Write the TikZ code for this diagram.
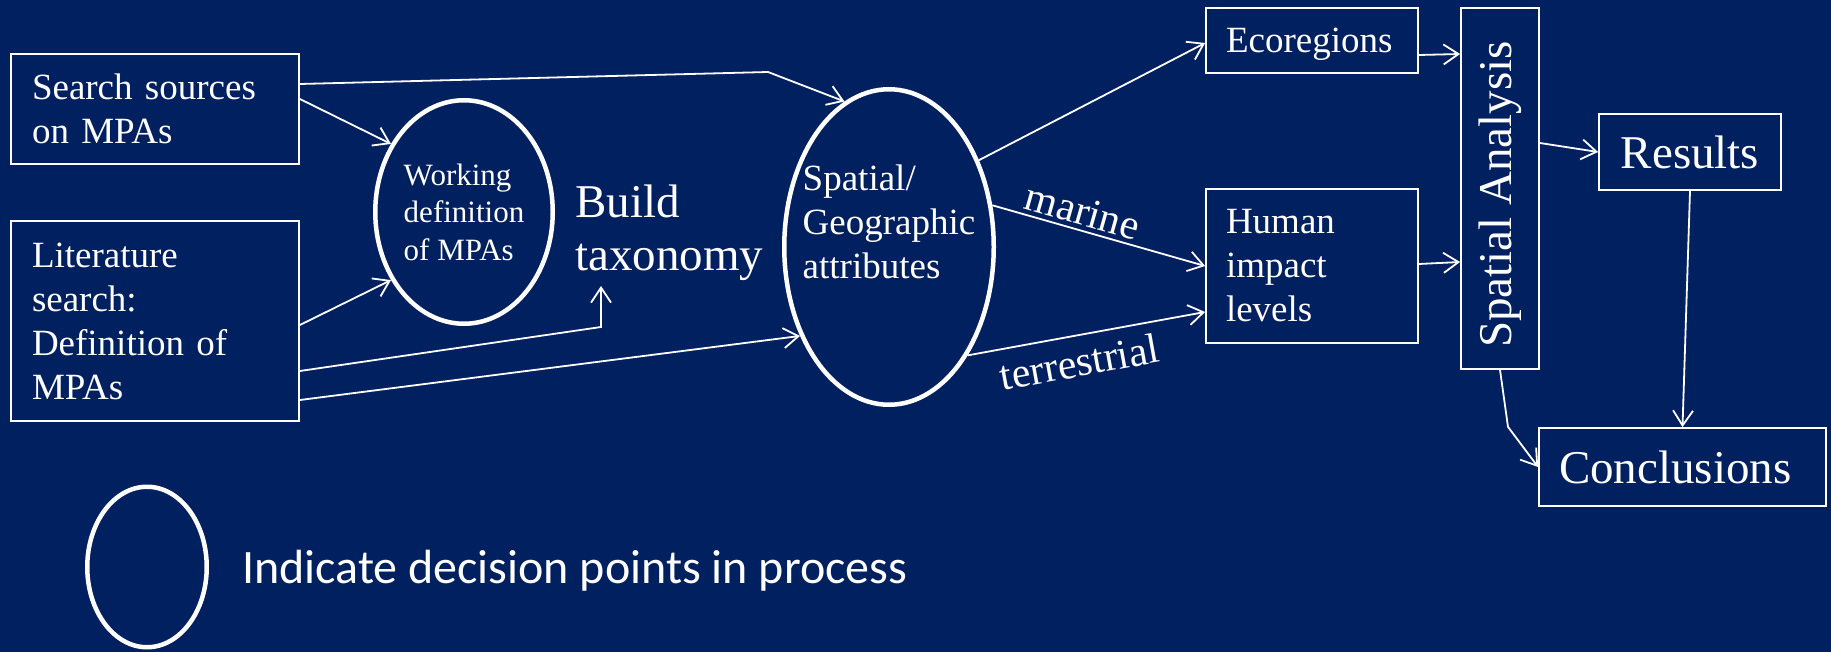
\documentclass[tikz,border=0pt]{standalone}
\usepackage{fontspec}
\setmainfont{Liberation Serif}
\newfontfamily\calibrifont{Carlito}
\usetikzlibrary{shapes.geometric,arrows.meta}
\definecolor{navy}{RGB}{0,32,96}
\begin{document}
\begin{tikzpicture}[x=1pt,y=-1pt,white,
  box/.style={draw=white, line width=1.8pt, text=white, inner ysep=0pt, align=left},
  oval/.style={ellipse, draw=white, line width=4.5pt, text=white, inner sep=0pt, align=left},
  arr/.style={draw=white, line width=1.8pt, -{Straight Barb[length=15pt,width=20pt]}, line join=miter},
  bodytext/.style={font=\fontsize{37}{44}\selectfont},
  bigtext/.style={font=\fontsize{47}{56}\selectfont},
  lbl/.style={text=white, font=\fontsize{42}{50}\selectfont},
]
\fill[navy] (0,0) rectangle (1831,652);
\useasboundingbox (0,0) rectangle (1831,652);

% left boxes
\node[box, bodytext, inner xsep=21pt, text width=246pt, minimum width=288pt, minimum height=110pt] (src) at (155,109) {Search sources\\on MPAs};
\node[box, bodytext, inner xsep=21pt, text width=246pt, minimum width=288pt, minimum height=200pt] (lit) at (155,321) {Literature\\search:\\Definition of\\MPAs};

% decision ovals
\node[oval, font=\fontsize{31}{37.5}\selectfont, minimum width=177.5pt, minimum height=223.5pt] (work) at (464,212) {Working\\definition\\of MPAs};
\node[oval, minimum width=209.5pt, minimum height=315.5pt] (sp) at (889,247) {};
\node[text=white, bodytext, align=left, inner sep=0pt] (spt) at (889,221.5) {Spatial/\\Geographic\\attributes};

% build taxonomy
\node[text=white, font=\fontsize{47}{53}\selectfont, align=left, inner sep=0pt, anchor=west] (build) at (575,232.5) {Build\\taxonomy};
\coordinate (bt) at (601,286);

% right boxes
\node[box, bodytext, inner xsep=20pt, text width=172pt, minimum width=212pt, minimum height=65pt, text depth=0pt] (eco) at (1312,40.5) {Ecoregions};
\node[box, bodytext, inner xsep=20pt, text width=172pt, minimum width=212pt, minimum height=154pt] (hum) at (1312,266) {Human\\impact\\levels};
\node[box, bigtext, inner sep=0pt, minimum width=78pt, minimum height=361pt] (sa) at (1500,188.5) {\rotatebox{90}{Spatial Analysis\hspace{12pt}}};
\node[box, bigtext, minimum width=182pt, minimum height=76pt] (res) at (1690,152) {Results};
\node[box, bigtext, inner xsep=20pt, text width=247pt, minimum width=287pt, minimum height=78pt] (con) at (1682.5,467) {Conclusions};

% legend
\node[oval, minimum width=119.5pt, minimum height=160.5pt] (leg) at (147,567) {};
\node[text=white, font=\calibrifont\fontsize{48}{58}\selectfont, inner sep=0pt, anchor=base west] (legtxt) at (242,583) {Indicate decision points in process};

% connectors
\draw[arr] ([yshift=25pt]src.east) -- (768,72) -- (sp.107);
\draw[arr] ([yshift=10pt]src.east) -- (work.137);
\draw[arr] ([yshift=-4pt]lit.east) -- (work.223);
\draw[arr] ([yshift=-50pt]lit.east) -- (601,327) -- (bt);
\draw[arr] ([yshift=-79pt]lit.east) -- (sp.225);
\draw[arr] (sp.44) -- ([yshift=-2.5pt]eco.west);
\draw[arr] (sp.22) -- node[pos=0.40, sloped, above, inner sep=4pt, lbl] {marine} (hum.west);
\draw[arr] (sp.306) -- node[pos=0.45, sloped, below, inner sep=11pt, lbl] {terrestrial} ([yshift=-46pt]hum.west);
\draw[arr] ([yshift=-14.5pt]eco.east) -- ([yshift=134.5pt]sa.west);
\draw[arr] ([yshift=2pt]hum.east) -- ([yshift=-73.5pt]sa.west);
\draw[arr] ([yshift=45.5pt]sa.east) -- (res.west);
\draw[arr] (res.south) -- (con.north);
\draw[arr] (sa.south) -- ++(8,57) -- (con.west);
\end{tikzpicture}
\end{document}
